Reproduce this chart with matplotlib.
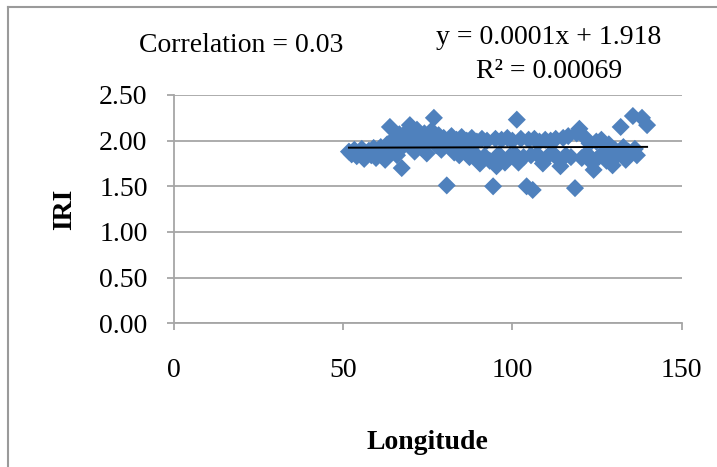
import matplotlib
matplotlib.use("Agg")
import matplotlib.pyplot as plt
from matplotlib.lines import Line2D
import numpy as np

# longitude / IRI pairs
longitude = [
    51.7, 52.5, 53.3, 54.0, 54.8, 55.5, 56.2, 56.9, 57.6, 58.3, 59.0, 59.7,
    60.4, 61.1, 61.8, 62.4, 63.0, 63.8, 64.5, 65.2, 65.9, 66.6, 67.3, 68.0,
    68.8, 69.7, 70.4, 71.1, 71.8, 72.5, 73.2, 74.0, 74.7, 75.4, 76.1, 76.8,
    77.5, 78.2, 79.0, 79.7, 80.6, 81.2, 82.0, 82.8, 83.5, 84.3, 85.0, 85.8,
    86.5, 87.3, 88.0, 88.8, 89.5, 90.4, 91.0, 91.8, 92.5, 93.3, 94.3, 95.0,
    95.3, 96.0, 96.8, 97.8, 98.5, 99.3, 100.0, 100.8, 101.3, 101.8, 102.5,
    103.3, 104.2, 104.8, 105.5, 106.0, 106.5, 107.3, 108.0, 109.0, 109.7,
    110.5, 111.3, 112.0, 112.8, 113.5, 114.2, 115.0, 115.8, 116.5, 117.3,
    118.5, 119.0, 119.8, 120.5, 121.3, 122.0, 122.8, 123.5, 124.0, 124.8,
    125.5, 126.3, 127.0, 127.8, 128.5, 129.6, 130.3, 131.0, 132.0, 132.8,
    133.5, 134.3, 135.6, 136.2, 136.8, 138.3, 139.8,
]
iri = [
    1.88, 1.85, 1.90, 1.83, 1.87, 1.91, 1.80, 1.86, 1.89, 1.84, 1.92, 1.81,
    1.87, 1.93, 1.85, 1.79, 1.96, 2.15, 1.90, 2.03, 1.84, 2.07, 1.70, 1.95,
    2.10, 2.17, 1.99, 1.88, 2.12, 2.04, 1.92, 2.08, 1.86, 2.02, 2.11, 2.25,
    1.95, 2.06, 1.90, 2.03, 1.51, 1.97, 2.05, 1.87, 2.01, 1.84, 2.04, 1.93,
    2.00, 1.82, 2.03, 1.86, 1.99, 1.75, 2.02, 1.83, 2.00, 1.78, 1.50, 2.02,
    1.72, 1.85, 2.01, 1.76, 2.03, 1.83, 2.00, 1.85, 2.23, 1.76, 2.02,
    1.82, 1.50, 2.01, 1.84, 1.46, 2.02, 1.85, 1.99, 1.75, 2.01,
    1.83, 2.00, 1.86, 2.02, 1.80, 1.72, 2.03, 1.84, 2.05, 1.82,
    1.48, 2.08, 2.13, 1.81, 2.04, 1.86, 1.97, 1.76, 1.68, 1.99,
    1.82, 2.01, 1.87, 1.78, 1.96, 1.73, 1.90, 1.84, 2.15, 1.93,
    1.79, 1.88, 2.27, 1.91, 1.84, 2.25, 2.17,
]

slope = 0.0001
intercept = 1.918
x_ticks = [0, 50, 100, 150]
y_ticks = [0.0, 0.5, 1.0, 1.5, 2.0, 2.5]

BLUE = "#4F81BD"
GRID = "#A6A6A6"
FS = 20

plt.rcParams["font.family"] = ["Liberation Serif", "DejaVu Serif"]

fig = plt.figure(figsize=(7.17, 4.67), dpi=100)
ax = fig.add_axes([174 / 717, 1 - 323.3 / 467, 507.6 / 717, 228.3 / 467])

ax.scatter(longitude, iri, marker="D", s=9.2 ** 2, color=BLUE,
           edgecolors="none", zorder=3)

xs = np.array([min(longitude), max(longitude)])
ax.plot(xs, slope * xs + intercept, color="black", lw=1.4, zorder=4)

ax.set_xlim(0, 150)
ax.set_ylim(0, 2.5)
ax.set_xticks(x_ticks)
ax.set_yticks(y_ticks)
ax.set_yticklabels([f"{v:.2f}" for v in y_ticks])
ax.yaxis.grid(True, color=GRID, lw=1.3)
ax.set_axisbelow(True)
for s in ("top", "right"):
    ax.spines[s].set_visible(False)
for s in ("left", "bottom"):
    ax.spines[s].set_color(GRID)
    ax.spines[s].set_linewidth(1.3)
ax.tick_params(axis="both", colors=GRID, labelcolor="black", labelsize=FS,
               length=5, width=1.3)
ax.tick_params(axis="x", pad=20)
ax.tick_params(axis="y", pad=14)

ax.set_xlabel("Longitude", fontsize=FS, fontweight="bold", labelpad=34)
ax.set_ylabel("IRI", fontsize=FS, fontweight="bold", labelpad=16)

fig.text(241 / 717, 1 - 46 / 467, "Correlation = 0.03", fontsize=FS,
         ha="center", va="center")
fig.text(549 / 717, 1 - 38 / 467, "y = 0.0001x + 1.918", fontsize=FS,
         ha="center", va="center")
fig.text(549 / 717, 1 - 71 / 467, "R² = 0.00069", fontsize=FS,
         ha="center", va="center")

# outer chart frame (top and left edges visible)
fig.add_artist(Line2D([8 / 717, 1], [1 - 7 / 467, 1 - 7 / 467],
                      color="#9A9A9A", lw=1.5, transform=fig.transFigure))
fig.add_artist(Line2D([8 / 717, 8 / 717], [0, 1 - 7 / 467],
                      color="#9A9A9A", lw=1.5, transform=fig.transFigure))

fig.savefig("out.png", dpi=100)
